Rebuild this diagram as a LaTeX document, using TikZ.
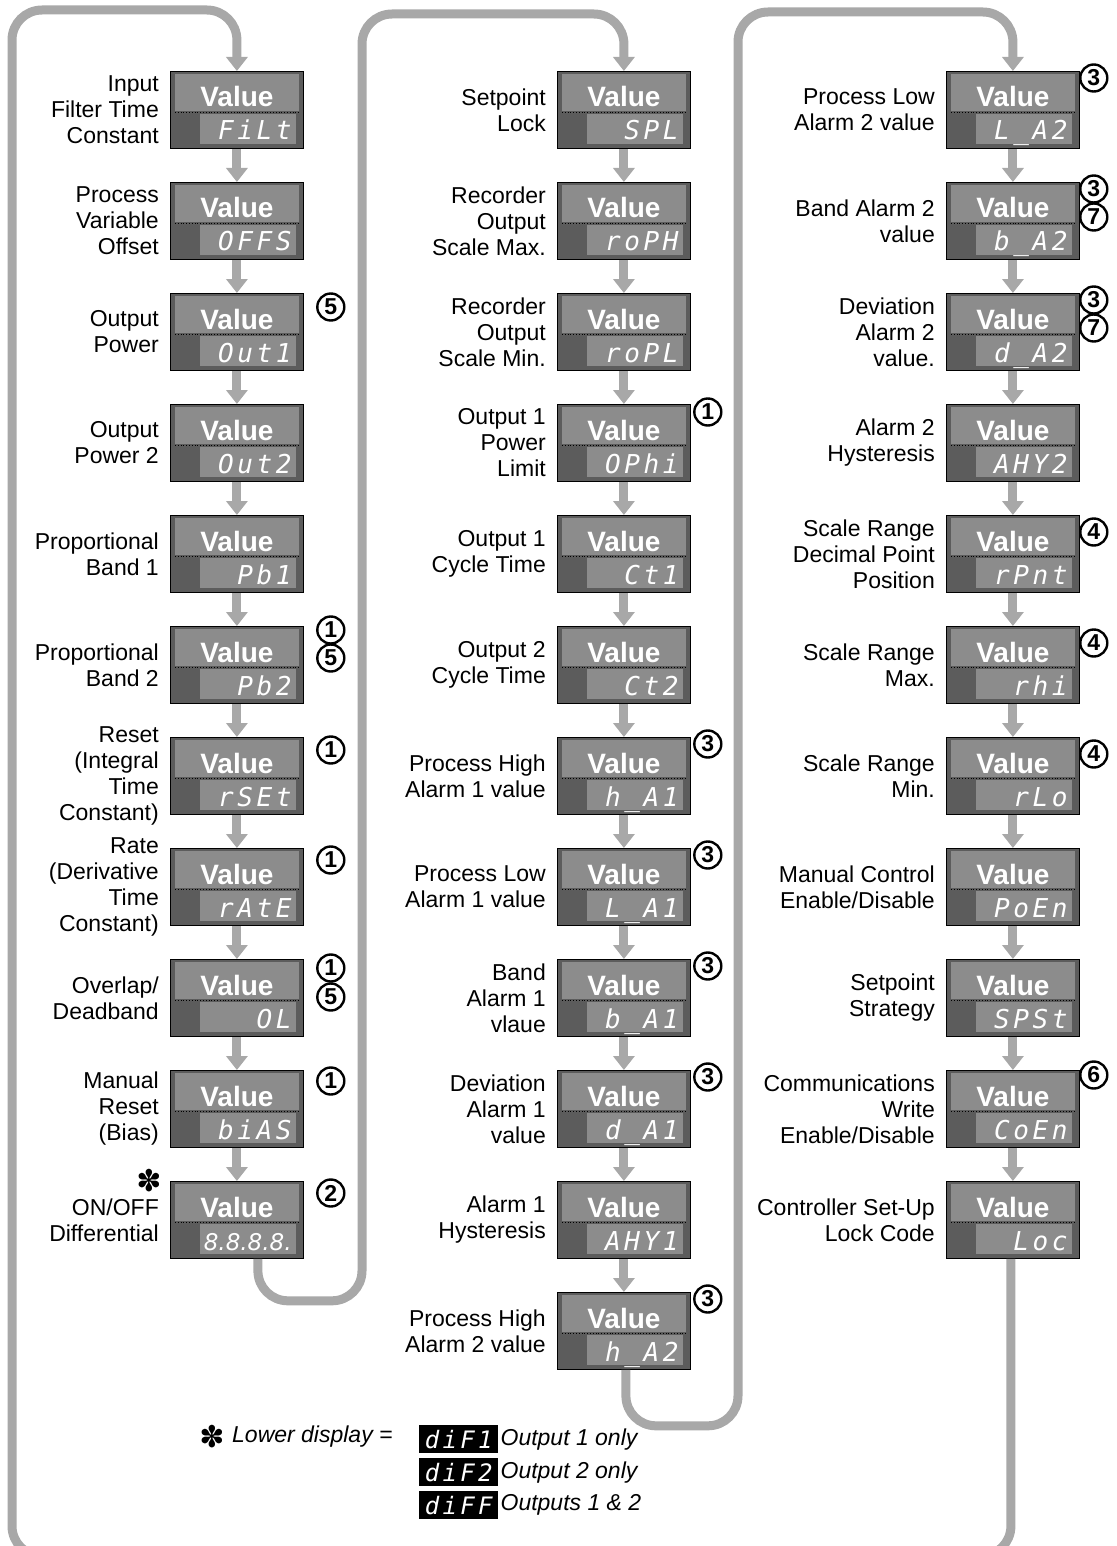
\documentclass[tikz,border=0pt]{standalone}
\usepackage{fontspec}
\setmainfont{Liberation Sans}
\newfontfamily\segfont{DejaVu Sans Mono}[LetterSpace=14]
\newfontfamily\symfont{DejaVu Sans}
\usetikzlibrary{positioning,calc,arrows.meta}
\definecolor{dispdark}{HTML}{5C5C5C}
\definecolor{displight}{HTML}{8C8C8C}
\definecolor{flowgrey}{HTML}{A8A8A8}

\begin{document}
\begin{tikzpicture}[x=1pt,y=-1pt,
  dispbox/.style={draw=black,line width=0.8pt,fill=dispdark,minimum width=133pt,
    minimum height=77pt,anchor=north west,inner sep=0pt},
  dotline/.style={draw=black,dotted,line width=0.8pt},
  valtext/.style={anchor=base,inner sep=0pt,text=white,font=\bfseries\fontsize{28}{28}\selectfont},
  segtext/.style={anchor=base east,inner sep=0pt,text=white,font=\segfont\itshape\fontsize{26}{26}\selectfont},
  parlabel/.style={anchor=east,align=right,inner sep=0pt,font=\fontsize{23}{26}\selectfont},
  notecirc/.style={circle,draw=black,line width=2.4pt,fill=white,inner sep=0pt,minimum size=27pt,
    font=\bfseries\fontsize{23}{23}\selectfont},
  flowarrow/.style={draw=flowgrey,line width=9pt,-{Triangle[width=21pt,length=14pt]}},
  symtext/.style={inner sep=0pt,font=\symfont\bfseries\fontsize{30}{30}\selectfont},
  legtext/.style={inner sep=0pt,font=\itshape\fontsize{23}{26}\selectfont},
  legbox/.style={anchor=north west,fill=black,minimum width=79pt,minimum height=28pt,inner sep=0pt,
    text=white,font=\segfont\itshape\fontsize{24}{24}\selectfont}]
  \useasboundingbox (0,0) rectangle (1116,1546);
  \clip (0,0) rectangle (1116,1546);

  % left column
  \foreach \i/\code/\lbl in {
    0/FiLt/{Input\\Filter Time\\Constant},
    1/OFFS/{Process\\Variable\\Offset},
    2/Out1/{Output\\Power},
    3/Out2/{Output\\Power 2},
    4/Pb1/{Proportional\\Band 1},
    5/Pb2/{Proportional\\Band 2},
    6/rSEt/{Reset\\(Integral\\Time\\Constant)},
    7/rAtE/{Rate\\(Derivative\\Time\\Constant)},
    8/OL/{Overlap/\\Deadband},
    9/biAS/{Manual\\Reset\\(Bias)},
    10/{\symfont\itshape\fontsize{23}{23}\selectfont 8.8.8.8.}/{ON/OFF\\Differential}} {
    \node[dispbox] (L\i) at (170,{71+111*\i}) {};
    \fill[displight] ([shift={(5,3)}]L\i.north west) rectangle ([shift={(-5,40)}]L\i.north east);
    \fill[displight] ([shift={(30,43)}]L\i.north west) rectangle ([shift={(-8,73)}]L\i.north east);
    \draw[dotline] ([shift={(5,41)}]L\i.north west) -- ([shift={(-5,41)}]L\i.north east);
    \node[valtext] (L\i-val) at ([shift={(0,36)}]L\i.north) {Value};
    \node[segtext] (L\i-code) at ([shift={(-12,69)}]L\i.north east) {\code};
    \node[parlabel] (L\i-lbl) at ([xshift=-11pt]L\i.west) {\lbl};
  }

  % middle column
  \foreach \i/\code/\lbl in {
    0/SPL/{Setpoint\\Lock},
    1/roPH/{Recorder\\Output\\Scale Max.},
    2/roPL/{Recorder\\Output\\Scale Min.},
    3/OPhi/{Output 1\\Power\\Limit},
    4/Ct1/{Output 1\\Cycle Time},
    5/Ct2/{Output 2\\Cycle Time},
    6/h\_A1/{Process High\\Alarm 1 value},
    7/L\_A1/{Process Low\\Alarm 1 value},
    8/b\_A1/{Band\\Alarm 1\\vlaue},
    9/d\_A1/{Deviation\\Alarm 1\\value},
    10/AHY1/{Alarm 1\\Hysteresis},
    11/h\_A2/{Process High\\Alarm 2 value}} {
    \node[dispbox] (M\i) at (557,{71+111*\i}) {};
    \fill[displight] ([shift={(5,3)}]M\i.north west) rectangle ([shift={(-5,40)}]M\i.north east);
    \fill[displight] ([shift={(30,43)}]M\i.north west) rectangle ([shift={(-8,73)}]M\i.north east);
    \draw[dotline] ([shift={(5,41)}]M\i.north west) -- ([shift={(-5,41)}]M\i.north east);
    \node[valtext] (M\i-val) at ([shift={(0,36)}]M\i.north) {Value};
    \node[segtext] (M\i-code) at ([shift={(-12,69)}]M\i.north east) {\code};
    \node[parlabel] (M\i-lbl) at ([xshift=-11pt]M\i.west) {\lbl};
  }

  % right column
  \foreach \i/\code/\lbl in {
    0/L\_A2/{Process Low\\Alarm 2 value},
    1/b\_A2/{Band Alarm 2\\value},
    2/d\_A2/{Deviation\\Alarm 2\\value.},
    3/AHY2/{Alarm 2\\Hysteresis},
    4/rPnt/{Scale Range\\Decimal Point\\Position},
    5/rhi/{Scale Range\\Max.},
    6/rLo/{Scale Range\\Min.},
    7/PoEn/{Manual Control\\Enable/Disable},
    8/SPSt/{Setpoint\\Strategy},
    9/CoEn/{Communications\\Write\\Enable/Disable},
    10/Loc/{Controller Set-Up\\Lock Code}} {
    \node[dispbox] (R\i) at (946,{71+111*\i}) {};
    \fill[displight] ([shift={(5,3)}]R\i.north west) rectangle ([shift={(-5,40)}]R\i.north east);
    \fill[displight] ([shift={(30,43)}]R\i.north west) rectangle ([shift={(-8,73)}]R\i.north east);
    \draw[dotline] ([shift={(5,41)}]R\i.north west) -- ([shift={(-5,41)}]R\i.north east);
    \node[valtext] (R\i-val) at ([shift={(0,36)}]R\i.north) {Value};
    \node[segtext] (R\i-code) at ([shift={(-12,69)}]R\i.north east) {\code};
    \node[parlabel] (R\i-lbl) at ([xshift=-11pt]R\i.west) {\lbl};
  }

  % arrows inside the columns
  \foreach \i [count=\j from 1] in {0,...,9}
    \draw[flowarrow] (L\i.south) -- (L\j.north);
  \foreach \i [count=\j from 1] in {0,...,10}
    \draw[flowarrow] (M\i.south) -- (M\j.north);
  \foreach \i [count=\j from 1] in {0,...,9}
    \draw[flowarrow] (R\i.south) -- (R\j.north);

  % loops from one column to the next
  \coordinate (laneA) at (362,14);
  \coordinate (laneB) at (738,12);
  \coordinate (laneC) at (12,1556);
  \coordinate (laneD) at (12,10);
  \draw[flowarrow,rounded corners=30pt] ([xshift=21pt]L10.south) -- ++(0,42) -| (laneA) -| (M0.north);
  \draw[flowarrow,rounded corners=30pt] ([xshift=2pt]M11.south) -- ++(0,56) -| (laneB) -| (R0.north);
  \draw[flowarrow,rounded corners=30pt] ([xshift=-2pt]R10.south) |- (laneC) -- (laneD) -| (L0.north);

  % notes
  \foreach \b/\dy/\num in {L2/14/5,L5/4/1,L5/32/5,L6/13/1,L7/12/1,L8/9/1,L8/38/5,L9/11/1,L10/12/2}
    \node[notecirc] (n-\b-\dy) at ([shift={(27,\dy)}]\b.north east) {\num};
  \foreach \b/\dy/\num in {M3/8/1,M6/7/3,M7/7/3,M8/7/3,M9/7/3,M11/7/3}
    \node[notecirc] (n-\b-\dy) at ([shift={(17,\dy)}]\b.north east) {\num};
  \foreach \b/\dy/\num in {R0/7/3,R1/7/3,R1/35/7,R2/7/3,R2/35/7,R4/17/4,R5/17/4,R6/17/4,R9/5/6}
    \node[notecirc] (n-\b-\dy) at ([shift={(14,\dy)}]\b.north east) {\num};

  % legend
  \node[symtext] (star1) at (149,1181) {✽};
  \node[symtext] (star2) at (212,1437) {✽};
  \node[legtext,anchor=west] (lowdisp) at (232,1437) {Lower display =};
  \foreach \k/\code/\txt in {0/diF1/{Output 1 only},1/diF2/{Output 2 only},2/diFF/{Outputs 1 \& 2}} {
    \node[legbox] (leg\k) at (419,{1425+33*\k}) {\code};
    \node[legtext,right=2pt of leg\k] (leg\k-txt) {\txt};
  }
\end{tikzpicture}
\end{document}
